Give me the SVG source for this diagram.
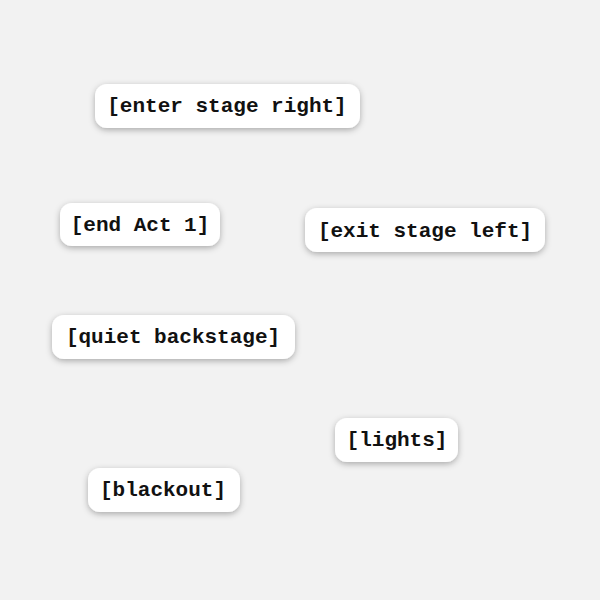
<svg xmlns="http://www.w3.org/2000/svg" width="600" height="600" viewBox="0 0 600 600">
<defs>
<filter id="sh" x="-20%" y="-40%" width="140%" height="180%"><feDropShadow dx="0" dy="2" stdDeviation="3" flood-color="#000" flood-opacity="0.3"/></filter>
<style>
.s{fill:#fff;filter:url(#sh)}
.t{font-family:"Liberation Mono",monospace;font-weight:bold;font-size:21px;fill:#111;text-anchor:middle;dominant-baseline:central}
</style>
</defs>
<rect width="600" height="600" fill="#f2f2f2"/>
<g id="n1"><rect class="s" x="95" y="84" width="265" height="44" rx="12"/><text class="t" x="227" y="106">[enter stage right]</text></g>
<g id="n2"><rect class="s" x="60" y="203" width="160" height="43" rx="12"/><text class="t" x="140" y="225">[end Act 1]</text></g>
<g id="n3"><rect class="s" x="305" y="208" width="240" height="44" rx="12"/><text class="t" x="425" y="231">[exit stage left]</text></g>
<g id="n4"><rect class="s" x="52" y="315" width="243" height="44" rx="12"/><text class="t" x="173" y="337">[quiet backstage]</text></g>
<g id="n5"><rect class="s" x="335" y="418" width="123" height="44" rx="12"/><text class="t" x="397" y="440">[lights]</text></g>
<g id="n6"><rect class="s" x="88" y="468" width="152" height="44" rx="12"/><text class="t" x="163" y="490">[blackout]</text></g>
<g id="connectors"/>
</svg>
